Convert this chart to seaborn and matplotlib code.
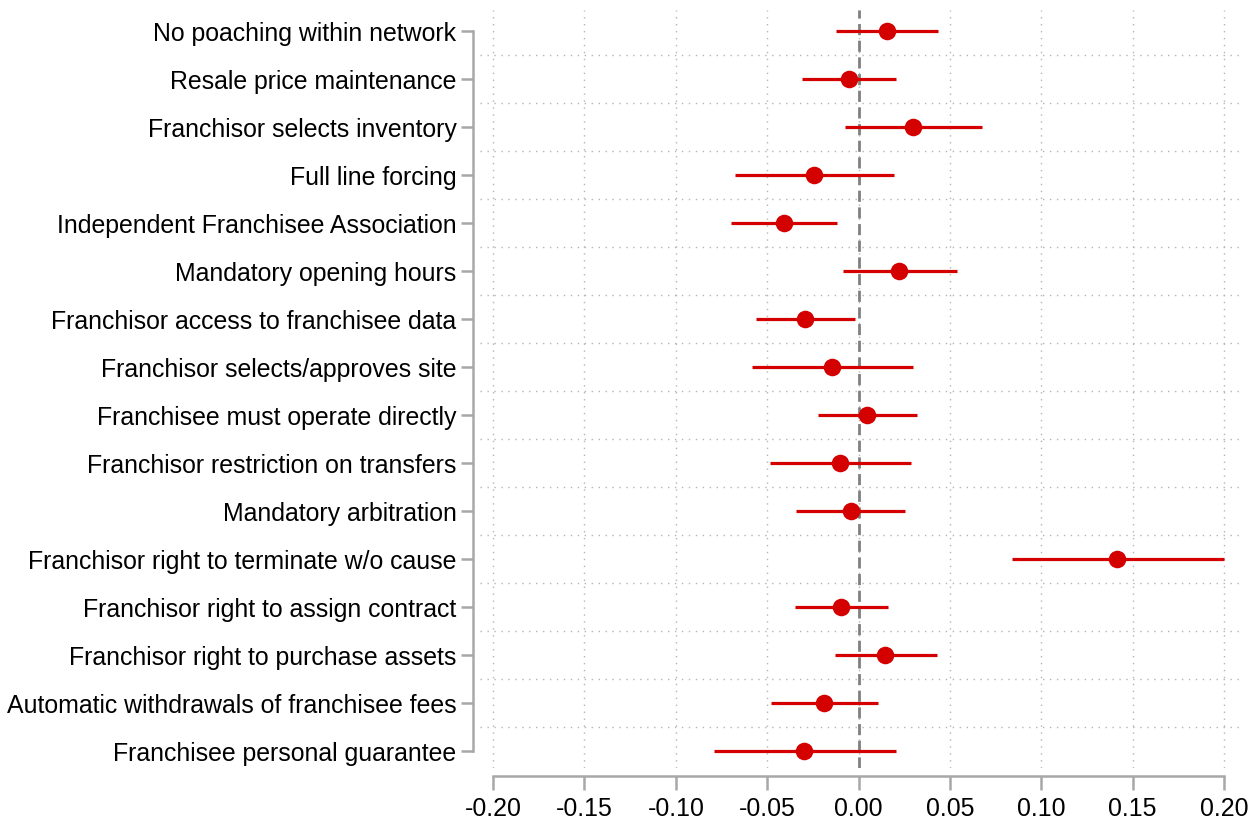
import matplotlib.pyplot as plt
import seaborn as sns
import pandas as pd

labels = ['No poaching within network', 'Resale price maintenance', 'Franchisor selects inventory',
          'Full line forcing', 'Independent Franchisee Association', 'Mandatory opening hours',
          'Franchisor access to franchisee data', 'Franchisor selects/approves site',
          'Franchisee must operate directly', 'Franchisor restriction on transfers',
          'Mandatory arbitration', 'Franchisor right to terminate w/o cause',
          'Franchisor right to assign contract', 'Franchisor right to purchase assets',
          'Automatic withdrawals of franchisee fees', 'Franchisee personal guarantee']
coef = [0.0156, -0.0052, 0.0298, -0.0243, -0.0408, 0.0222, -0.0293, -0.0145,
        0.0047, -0.0101, -0.0041, 0.1415, -0.0096, 0.0145, -0.0189, -0.0298]
ci_lo = [-0.0123, -0.0310, -0.0074, -0.0676, -0.0698, -0.0085, -0.0561, -0.0583,
         -0.0222, -0.0484, -0.0342, 0.0840, -0.0347, -0.0130, -0.0479, -0.0790]
ci_hi = [0.0435, 0.0205, 0.0676, 0.0194, -0.0118, 0.0539, -0.0019, 0.0298,
         0.0320, 0.0287, 0.0254, 0.2000, 0.0161, 0.0430, 0.0107, 0.0205]
xticks = [-0.20, -0.15, -0.10, -0.05, 0.00, 0.05, 0.10, 0.15, 0.20]

df = pd.DataFrame({'label': labels, 'coef': coef, 'lo': ci_lo, 'hi': ci_hi})
df['pos'] = range(len(df))

sns.set_style('white')
plt.rcParams['font.family'] = ['Liberation Sans', 'DejaVu Sans']

fig = plt.figure(figsize=(12.6, 8.24), dpi=100)
ax = fig.add_axes([480 / 1260, 1 - 768 / 824, 760 / 1260, 758 / 824])

red = '#d40000'
grid = '#b4b4b4'

# grid: vertical at ticks, horizontal between rows
for t in xticks:
    ax.axvline(t, color=grid, lw=1, ls=(0, (1, 4)), zorder=0)
for i in range(len(df) - 1):
    ax.axhline(i + 0.5, color=grid, lw=1, ls=(0, (1, 4)), zorder=0)
ax.axvline(0, color='#808080', lw=2, ls=(0, (4, 2)), zorder=1)

ax.hlines(df['pos'], df['lo'], df['hi'], color=red, lw=2.3, zorder=2)
sns.scatterplot(data=df, x='coef', y='pos', ax=ax, color=red, s=160,
                edgecolor=red, linewidth=0, zorder=3, legend=False)

ax.set_xlim(-0.2072, 0.2088)
ax.set_ylim(15.35, -0.44)
ax.set_yticks(df['pos'])
ax.set_yticklabels(labels)
ax.set_xticks(xticks)
ax.set_xticklabels([f'{t:.2f}' for t in xticks])
ax.set_xlabel('')
ax.set_ylabel('')

for s in ['top', 'right']:
    ax.spines[s].set_visible(False)
ax.spines['left'].set_position(('outward', 5))
ax.spines['bottom'].set_position(('outward', 6))
ax.spines['left'].set_bounds(0, 15)
ax.spines['bottom'].set_bounds(-0.2, 0.2)
for s in ['left', 'bottom']:
    ax.spines[s].set_color('#a8a8a8')
    ax.spines[s].set_linewidth(1.8)
ax.tick_params(axis='both', which='major', direction='out', color='#a8a8a8',
               width=1.8, labelsize=17.9, labelcolor='black', left=True, bottom=True)
ax.tick_params(axis='y', length=9, pad=3)
ax.tick_params(axis='x', length=10, pad=5)

plt.savefig('out.png', dpi=100)
